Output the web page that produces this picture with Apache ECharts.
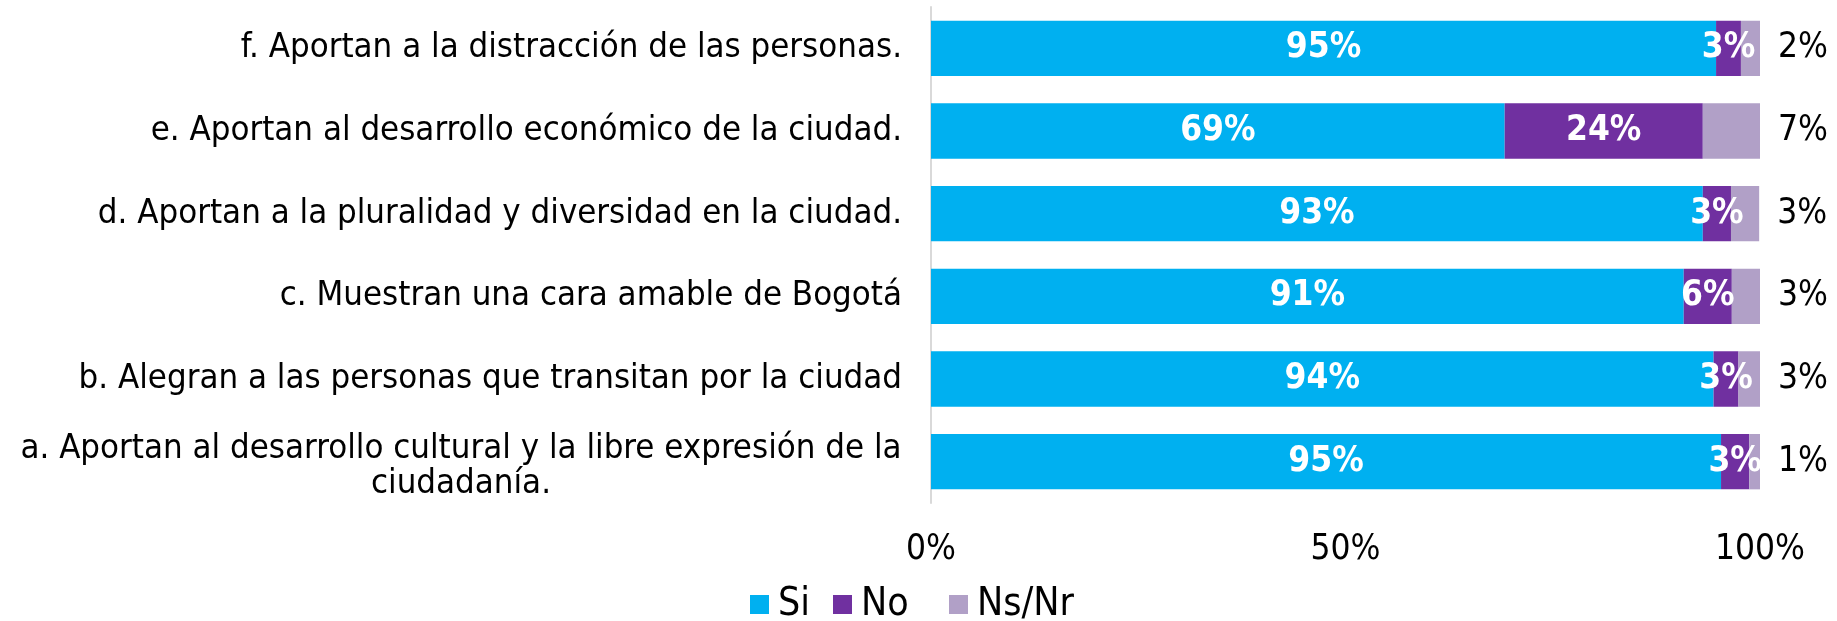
<!DOCTYPE html>
<html>
<head>
<meta charset="utf-8">
<script src="https://cdn.jsdelivr.net/npm/echarts@6/dist/echarts.min.js"></script>
<style>
  html, body { margin: 0; padding: 0; background: #fff; }
  #chart { width: 1837px; height: 621px; }
</style>
</head>
<body>
<div id="chart"></div>
<script>
var categories = [
  "a. Aportan al desarrollo cultural y la libre expresión de la\nciudadanía.",
  "b. Alegran a las personas que transitan por la ciudad",
  "c. Muestran una cara amable de Bogotá",
  "d. Aportan a la pluralidad y diversidad en la ciudad.",
  "e. Aportan al desarrollo económico de la ciudad.",
  "f. Aportan a la distracción de las personas."
];
var seriesNames = ["Si", "No", "Ns/Nr"];
var si = [95.3, 94.4, 90.8, 93.1, 69.2, 94.7];
var no = [3.4, 3.0, 5.8, 3.4, 23.9, 3.0];
var nsnr = [1.3, 2.6, 3.4, 3.4, 6.9, 2.4];
var xTicks = [0, 50, 100];

var font = "'DejaVu Sans Condensed', 'Liberation Sans Narrow', 'DejaVu Sans', sans-serif";
var legendLeft = [750, 833, 949];

function pct(p) { return Math.round(p.value) + "%"; }

var legends = seriesNames.map(function (n, i) {
  return {
    data: [n],
    left: legendLeft[i],
    top: 585,
    padding: 0,
    icon: "rect",
    itemWidth: 19,
    itemHeight: 19,
    textStyle: { fontSize: 39, color: "#000", fontFamily: font, padding: [0, 0, 0, 4] }
  };
});

var chart = echarts.init(document.getElementById("chart"));
chart.setOption({
  animation: false,
  textStyle: { fontFamily: font },
  grid: { left: 931, right: 77, top: 7, bottom: 118 },
  legend: legends,
  xAxis: {
    type: "value",
    min: xTicks[0],
    max: xTicks[xTicks.length - 1],
    interval: 50,
    splitLine: { show: false },
    axisLine: { show: false },
    axisTick: { show: false },
    axisLabel: { formatter: "{value}%", fontSize: 35, color: "#000", margin: 29, fontFamily: font }
  },
  yAxis: {
    type: "category",
    data: categories,
    axisLine: { show: true, lineStyle: { color: "#d9d9d9", width: 2 } },
    axisTick: { show: false },
    axisLabel: {
      fontSize: 34.5,
      color: "#000",
      margin: 29,
      lineHeight: 34,
      fontFamily: font,
      formatter: function (v) {
        if (v.indexOf("\n") >= 0) {
          var parts = v.split("\n");
          return "{s| }\n{c|" + parts[0] + "}\n{c|" + parts[1] + "}";
        }
        return v;
      },
      rich: {
        s: { fontSize: 4, lineHeight: 9 },
        c: { width: 882, align: "center", fontSize: 34.5, lineHeight: 35, fontFamily: font }
      }
    }
  },
  series: [
    {
      name: seriesNames[0], type: "bar", stack: "t", data: si, barCategoryGap: "33%",
      itemStyle: { color: "#00B0F0" },
      label: { show: true, position: "inside", formatter: pct, color: "#fff", fontSize: 35, fontWeight: "bold", fontFamily: font }
    },
    {
      name: seriesNames[1], type: "bar", stack: "t", data: no,
      itemStyle: { color: "#7030A0" },
      label: { show: true, position: "inside", formatter: pct, color: "#fff", fontSize: 35, fontWeight: "bold", fontFamily: font }
    },
    {
      name: seriesNames[2], type: "bar", stack: "t", data: nsnr,
      itemStyle: { color: "#B1A0C7" },
      label: { show: true, position: "right", distance: 18, formatter: pct, color: "#000", fontSize: 35, fontFamily: font }
    }
  ]
});
</script>
</body>
</html>
